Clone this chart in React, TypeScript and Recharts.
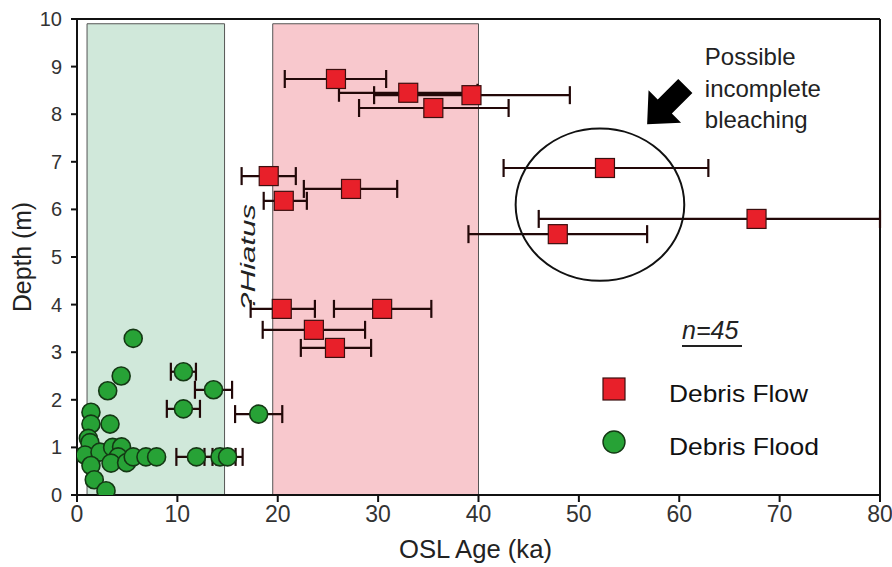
import {
  ScatterChart,
  Scatter,
  XAxis,
  YAxis,
  ErrorBar,
  ReferenceArea,
  ReferenceDot,
  ReferenceLine,
  Legend,
} from 'recharts';

const FONT = "'Liberation Sans', Arial, sans-serif";
const NARROW = "'Liberation Sans Narrow', 'Arial Narrow', 'Liberation Sans', sans-serif";

const AGE_TICKS = [0, 10, 20, 30, 40, 50, 60, 70, 80];
const DEPTH_TICKS = [0, 1, 2, 3, 4, 5, 6, 7, 8, 9, 10];

// debris flow samples (ka, m) with asymmetric 1-sigma age errors
const flowAge = [25.8, 33.0, 39.3, 35.5, 19.1, 27.3, 20.6, 20.4, 30.4, 23.6, 25.7, 52.6, 67.7, 47.9];
const flowDepth = [8.74, 8.45, 8.4, 8.13, 6.7, 6.43, 6.18, 3.91, 3.91, 3.47, 3.09, 6.87, 5.8, 5.48];
const flowErrLow = [5.1, 6.9, 9.7, 7.4, 2.7, 4.7, 2.0, 3.1, 4.8, 5.1, 3.4, 10.1, 21.7, 8.9];
const flowErrHigh = [5.0, 6.9, 9.8, 7.5, 2.7, 4.6, 2.3, 3.3, 4.9, 5.1, 3.6, 10.3, 12.3, 8.9];

// debris flood samples
const floodAge = [5.6, 10.6, 4.4, 13.6, 3.06, 10.6, 18.1, 1.39, 1.39, 3.29, 1.13, 1.29, 0.8, 2.29,
  3.55, 4.44, 4.1, 3.39, 4.94, 5.6, 6.87, 7.93, 1.39, 1.72, 2.89, 11.9, 14.25, 15.0];
const floodDepth = [3.29, 2.59, 2.5, 2.21, 2.19, 1.81, 1.7, 1.74, 1.49, 1.49, 1.19, 1.1, 0.84, 0.9,
  1.0, 1.01, 0.8, 0.67, 0.68, 0.8, 0.8, 0.8, 0.62, 0.32, 0.09, 0.8, 0.8, 0.8];
const floodErr = [0, 1.25, 0, 1.85, 0, 1.65, 2.35, 0, 0, 0, 0, 0, 0, 0,
  0, 0, 0, 0, 0, 0, 0, 0, 0, 0, 0, 2.0, 1.55, 1.5];

const flowPoints = flowAge.map((x, i) => ({ x, y: flowDepth[i], err: [flowErrLow[i], flowErrHigh[i]] }));
const floodPoints = floodAge.map((x, i) => ({ x, y: floodDepth[i], err: floodErr[i] }));

const W = 892;
const H = 567;
const MARGIN = { top: 19, right: 12, left: 0, bottom: 0 };
const Y_AXIS_W = 77;
const X_AXIS_H = 72;
const PLOT_W = W - MARGIN.right - Y_AXIS_W;
const PLOT_H = H - MARGIN.top - X_AXIS_H;
const PX_PER_KA = PLOT_W / 80;
const PX_PER_M = PLOT_H / 10;

const RED = '#e8202a';
const GREEN = '#27a236';
const BAR = '#220808';

const Square = (p: any) => (
  <rect x={p.cx - 9.5} y={p.cy - 9.5} width={19} height={19} fill={RED} stroke="#3b0f0f" strokeWidth={1.2} />
);

const Dot = (p: any) => <circle cx={p.cx} cy={p.cy} r={9} fill={GREEN} stroke="#143814" strokeWidth={1.6} />;

const XTick = (p: any) => (
  <text x={p.x} y={p.y + 18} textAnchor="middle" fontSize={23} fontFamily={NARROW} fill="#333">
    {p.payload.value}
  </text>
);

const YTick = (p: any) => (
  <text x={p.x - 7} y={p.y + 7} textAnchor="end" fontSize={20} fontFamily={FONT} fill="#333">
    {p.payload.value}
  </text>
);

function LegendBox() {
  return (
    <svg width={260} height={160}>
      <text x={92} y={29} fontSize={25} fontStyle="italic" fontFamily={FONT} fill="#222">
        n=45
      </text>
      <line x1={92} x2={152} y1={36} y2={36} stroke="#222" strokeWidth={2} />
      <rect x={13} y={68} width={22} height={22} fill={RED} stroke="#3b0f0f" strokeWidth={1.2} />
      <text x={79} y={92} fontSize={24} fontFamily={FONT} fill="#111" textLength={139} lengthAdjust="spacingAndGlyphs">
        Debris Flow
      </text>
      <circle cx={24} cy={132} r={11} fill={GREEN} stroke="#143814" strokeWidth={1.4} />
      <text x={79} y={145} fontSize={24} fontFamily={FONT} fill="#111" textLength={150} lengthAdjust="spacingAndGlyphs">
        Debris Flood
      </text>
    </svg>
  );
}

export default function App() {
  return (
    <div style={{ position: 'absolute', left: 0, top: 0, background: '#fff' }}>
      <ScatterChart width={W} height={H} margin={MARGIN}>
        <XAxis
          type="number"
          dataKey="x"
          domain={[0, 80]}
          ticks={AGE_TICKS}
          allowDataOverflow
          height={X_AXIS_H}
          tickSize={7}
          tick={<XTick />}
          axisLine={{ stroke: '#111', strokeWidth: 2 }}
          tickLine={{ stroke: '#111', strokeWidth: 2 }}
          label={{
            content: (lp: any) => {
              const vb = lp.viewBox;
              return (
                <text
                  x={vb.x + vb.width / 2 - 3}
                  y={vb.y + 63}
                  textAnchor="middle"
                  fontSize={25}
                  fontFamily={FONT}
                  fill="#222"
                  textLength={153}
                  lengthAdjust="spacingAndGlyphs"
                >
                  OSL Age (ka)
                </text>
              );
            },
          }}
        />
        <YAxis
          type="number"
          dataKey="y"
          domain={[0, 10]}
          ticks={DEPTH_TICKS}
          allowDataOverflow
          width={Y_AXIS_W}
          tickSize={6}
          tick={<YTick />}
          axisLine={{ stroke: '#111', strokeWidth: 2 }}
          tickLine={{ stroke: '#111', strokeWidth: 2 }}
          label={{
            content: (lp: any) => {
              const vb = lp.viewBox;
              return (
                <text
                  transform={`translate(${vb.x + 31}, ${vb.y + vb.height / 2}) rotate(-90)`}
                  textAnchor="middle"
                  fontSize={25}
                  fontFamily={FONT}
                  fill="#222"
                  textLength={110}
                  lengthAdjust="spacingAndGlyphs"
                >
                  Depth (m)
                </text>
              );
            },
          }}
        />

        <ReferenceArea x1={1} x2={14.7} y1={0} y2={9.9} fill="#d0e8da" fillOpacity={1} stroke="#555" strokeWidth={1} />
        <ReferenceArea x1={19.5} x2={40} y1={0} y2={9.9} fill="#f8c8cd" fillOpacity={1} stroke="#555" strokeWidth={1} />
        <ReferenceLine y={10} stroke="#111" strokeWidth={2} />
        <ReferenceLine x={80} stroke="#111" strokeWidth={2} />

        <Scatter name="Debris Flow" data={flowPoints} shape={Square} isAnimationActive={false}>
          <ErrorBar dataKey="err" direction="x" width={9} stroke={BAR} strokeWidth={2.2} />
        </Scatter>
        <Scatter name="Debris Flood" data={floodPoints} shape={Dot} isAnimationActive={false}>
          <ErrorBar dataKey="err" direction="x" width={9} stroke={BAR} strokeWidth={2.2} />
        </Scatter>

        {/* ring around the possibly under-bleached samples */}
        <ReferenceDot
          x={52.1}
          y={6.1}
          shape={(p: any) => (
            <ellipse cx={p.cx} cy={p.cy} rx={8.4 * PX_PER_KA} ry={1.6 * PX_PER_M} fill="none" stroke="#111" strokeWidth={2} />
          )}
        />
        <ReferenceDot
          x={56.8}
          y={7.79}
          shape={(p: any) => (
            <polygon
              transform={`translate(${p.cx}, ${p.cy}) rotate(135)`}
              points="0,0 -25,-23 -25,-10 -54,-10 -54,10 -25,10 -25,23"
              fill="#000"
            />
          )}
        />
        <ReferenceDot
          x={62.55}
          y={9.03}
          shape={(p: any) => (
            <text x={p.cx} y={p.cy} fontSize={24} fontFamily={FONT} fill="#222">
              <tspan x={p.cx}>Possible</tspan>
              <tspan x={p.cx} dy={32}>incomplete</tspan>
              <tspan x={p.cx} dy={31}>bleaching</tspan>
            </text>
          )}
        />
        <ReferenceDot
          x={17.03}
          y={5.0}
          shape={(p: any) => (
            <text
              transform={`translate(${p.cx}, ${p.cy}) rotate(-90)`}
              textAnchor="middle"
              dominantBaseline="central"
              fontSize={21}
              fontStyle="italic"
              fontFamily={FONT}
              fill="#222"
              textLength={106}
              lengthAdjust="spacingAndGlyphs"
            >
              ?Hiatus
            </text>
          )}
        />

        <Legend
          layout="horizontal"
          verticalAlign="middle"
          align="center"
          wrapperStyle={{ left: 590, top: 310, width: 260, height: 160 }}
          content={() => <LegendBox />}
        />
      </ScatterChart>
    </div>
  );
}
